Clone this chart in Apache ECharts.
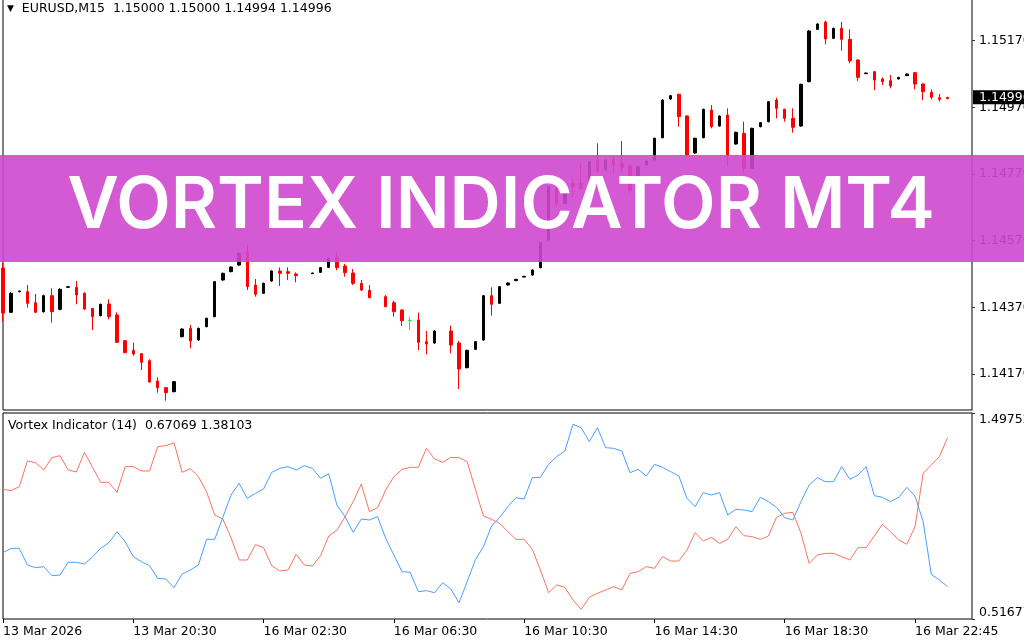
<!DOCTYPE html>
<html><head><meta charset="utf-8">
<script src="https://cdn.jsdelivr.net/npm/echarts@6/dist/echarts.min.js"></script>
<style>html,body{margin:0;padding:0;background:#fff}#c{width:1024px;height:640px}</style>
</head><body><div id="c"></div>
<script>
const symbol = 'EURUSD', timeframe = 'M15', vortexPeriod = 14;
const bannerText = 'VORTEX INDICATOR MT4';
const slotCount = 120;
const opens = [1.14488,1.14355,1.14417,1.14417,1.14384,1.14357,1.14405,1.14364,1.14430,1.14430,
1.14412,1.14367,1.14345,1.14380,1.14347,1.14270,1.14241,1.14231,1.14210,1.14149,
1.14129,1.14117,1.14282,1.14307,1.14272,1.14312,1.14342,1.14452,1.14477,1.14497,
1.14536,1.14437,1.14412,1.14449,1.14479,1.14477,1.14470,null,1.14471,1.14475,
1.14490,1.14520,1.14494,1.14473,1.14442,1.14421,null,1.14402,1.14384,1.14362,
1.14330,1.14332,1.14267,1.14263,null,1.14299,1.14263,1.14189,1.14244,1.14272,
1.14405,1.14382,1.14437,1.14450,1.14461,1.14467,1.14489,1.14572,1.14727,1.14682,
1.14742,1.14742,1.14732,1.14812,1.14782,1.14814,1.14802,1.14794,1.14752,1.14797,
1.14812,1.14879,1.14995,1.15009,1.14944,1.14833,1.14879,1.14962,1.14914,1.14947,
1.14860,1.14892,1.14787,1.14912,1.14927,1.14992,1.14964,1.14937,1.14914,1.15047,
1.15204,1.15226,1.15177,1.15207,1.15174,1.15112,1.15071,1.15077,1.15055,1.15050,
1.15055,1.15065,1.15074,1.15040,1.15015,1.14999,1.15000];
const highs = [1.14503,1.14416,1.14420,1.14437,1.14410,1.14408,1.14427,1.14427,1.14433,1.14449,
1.14415,1.14368,1.14381,1.14394,1.14355,1.14272,1.14264,1.14233,1.14214,1.14160,
1.14131,1.14149,1.14307,1.14317,1.14309,1.14339,1.14449,1.14474,1.14493,1.14535,
1.14557,1.14455,1.14444,1.14481,1.14490,1.14490,1.14475,null,1.14474,1.14491,
1.14519,1.14536,1.14500,1.14485,1.14452,1.14437,null,1.14407,1.14390,1.14364,
1.14342,1.14354,1.14299,1.14301,null,1.14315,1.14269,1.14243,1.14269,1.14407,
1.14430,1.14434,1.14445,1.14455,1.14464,1.14484,1.14566,1.14734,1.14764,1.14719,
1.14757,1.14802,1.14809,1.14862,1.14814,1.14824,1.14869,1.14796,1.14794,1.14811,
1.14879,1.14994,1.15007,1.15011,1.14946,1.14879,1.14966,1.14977,1.14946,1.14967,
1.14897,1.14927,1.14909,1.14926,1.14989,1.14999,1.14966,1.14967,1.15041,1.15201,
1.15222,1.15230,1.15209,1.15226,1.15204,1.15114,1.15074,1.15079,1.15060,1.15067,
1.15061,1.15071,1.15076,1.15042,1.15024,1.15010,1.15000];
const lows = [1.14327,1.14353,1.14415,1.14369,1.14354,1.14354,1.14324,1.14361,1.14429,1.14379,
1.14362,1.14302,1.14343,1.14334,1.14263,1.14232,1.14225,1.14182,1.14144,1.14114,
1.14090,1.14115,1.14280,1.14247,1.14270,1.14310,1.14340,1.14450,1.14475,1.14495,
1.14422,1.14402,1.14410,1.14447,1.14434,1.14452,1.14445,null,1.14470,1.14473,
1.14488,1.14481,1.14462,1.14437,1.14419,1.14397,null,1.14370,1.14342,1.14314,
1.14302,1.14242,1.14229,1.14261,null,1.14232,1.14125,1.14187,1.14242,1.14270,
1.14345,1.14380,1.14436,1.14449,1.14460,1.14465,1.14487,1.14570,1.14672,1.14680,
1.14702,1.14722,1.14730,1.14773,1.14780,1.14770,1.14777,1.14712,1.14750,1.14795,
1.14810,1.14877,1.14993,1.14912,1.14818,1.14831,1.14877,1.14907,1.14912,1.14792,
1.14858,1.14772,1.14785,1.14910,1.14925,1.14937,1.14927,1.14894,1.14912,1.15045,
1.15202,1.15159,1.15175,1.15140,1.15102,1.15049,1.15070,1.15022,1.15037,1.15027,
1.15054,1.15064,1.15024,1.14992,1.14994,1.14987,1.14994];
const closes = [1.14353,1.14412,1.14419,1.14382,1.14355,1.14405,1.14357,1.14424,1.14432,1.14407,
1.14365,1.14342,1.14379,1.14342,1.14265,1.14234,1.14230,1.14205,1.14146,1.14129,
1.14114,1.14147,1.14305,1.14269,1.14307,1.14337,1.14447,1.14472,1.14491,1.14532,
1.14432,1.14409,1.14442,1.14479,1.14472,1.14472,1.14465,null,1.14473,1.14489,
1.14517,1.14489,1.14474,1.14442,1.14422,1.14399,null,1.14372,1.14357,1.14330,
1.14330,1.14265,1.14260,1.14299,null,1.14257,1.14185,1.14241,1.14267,1.14405,
1.14379,1.14432,1.14443,1.14454,1.14463,1.14482,1.14564,1.14732,1.14682,1.14717,
1.14732,1.14727,1.14807,1.14777,1.14812,1.14797,1.14790,1.14722,1.14792,1.14809,
1.14877,1.14992,1.15005,1.14942,1.14827,1.14877,1.14964,1.14912,1.14944,1.14824,
1.14895,1.14787,1.14907,1.14924,1.14987,1.14967,1.14937,1.14910,1.15039,1.15199,
1.15220,1.15175,1.15207,1.15174,1.15109,1.15060,1.15073,1.15052,1.15047,1.15034,
1.15060,1.15070,1.15040,1.15017,1.15000,1.14994,1.14996];
const vortexPlus = [0.8326,0.8532,0.8532,0.7739,0.7612,0.7659,0.7231,0.7262,0.7866,0.7866,
0.7786,0.8135,0.8532,0.8802,0.9326,0.8850,0.8135,0.7897,0.7707,0.7104,
0.7072,0.6660,0.7310,0.7501,0.7739,0.8961,0.8961,1.0008,1.1071,1.1627,
1.0913,1.1151,1.1357,1.2151,1.2341,1.2420,1.2262,1.2468,1.2341,1.1865,
1.2087,1.0595,1.0040,0.9294,0.9929,0.9881,1.0040,0.9008,0.8215,0.7421,
0.7390,0.6469,0.6517,0.6421,0.6898,0.6596,0.5945,0.6945,0.7977,0.8611,
0.9595,1.0008,1.0516,1.0944,1.0881,1.1897,1.1913,1.2531,1.2896,1.3166,
1.4436,1.4277,1.3611,1.4277,1.3325,1.3293,1.3166,1.2135,1.2293,1.1976,
1.2531,1.2388,1.2182,1.1976,1.0913,1.0516,1.1183,1.1071,1.1183,1.0119,
1.0389,1.0357,1.0278,1.0960,1.0754,1.0484,0.9992,0.9881,1.0754,1.1547,
1.1897,1.1706,1.1706,1.2420,1.1817,1.2024,1.2420,1.1040,1.0960,1.0754,
1.0960,1.1436,1.1024,0.9802,0.7294,0.7024,0.67069];
const vortexMinus = [1.1341,1.1278,1.1468,1.2690,1.2611,1.2262,1.2849,1.2944,1.2262,1.2166,
1.3103,1.2388,1.1674,1.1674,1.1198,1.2420,1.2420,1.2214,1.2214,1.3373,
1.3420,1.3563,1.2151,1.2325,1.1944,1.1230,1.0119,0.9929,0.9040,0.7977,
0.7977,0.8707,0.8564,0.7707,0.7453,0.7501,0.8246,0.7739,0.7691,0.8183,
0.9119,0.9389,1.0040,1.0754,1.1595,1.0278,1.0468,1.1309,1.1944,1.2293,
1.2388,1.2388,1.3293,1.2786,1.2627,1.2865,1.2849,1.2658,1.1357,1.0072,
0.9913,0.9722,0.9326,0.8961,0.8961,0.8485,0.7501,0.6421,0.6786,0.6675,
0.6072,0.5628,0.6199,0.6390,0.6548,0.6707,0.6548,0.7342,0.7421,0.7659,
0.7580,0.8135,0.7929,0.7929,0.8453,0.9278,0.8881,0.9056,0.8770,0.8961,
0.9564,0.9135,0.9088,0.8961,0.9119,1.0008,1.0199,1.0246,0.9246,0.7818,
0.8215,0.8294,0.8294,0.8135,0.7977,0.8564,0.8564,0.9119,0.9675,0.9326,
0.8929,0.8723,0.9564,1.2103,1.2500,1.2897,1.38103];
const xTickIndex = [0,16,32,48,64,80,96,112];
const xTickLabels = ['13 Mar 2026','13 Mar 20:30','16 Mar 02:30','16 Mar 06:30','16 Mar 10:30','16 Mar 14:30','16 Mar 18:30','16 Mar 22:45'];
const priceTicks = [1.1417,1.1437,1.1457,1.1477,1.1497,1.1517];
const priceMin = 1.14062, priceMax = 1.15295;
const vortexMin = 0.51677, vortexMax = 1.49752;

const FONT = 'DejaVu Sans';
const FS = 12.5;
const cats = Array.from({length: slotCount}, (_, i) => String(i));
const candleData = opens.map((o, i) => o == null ? ['-','-','-','-'] : [o, closes[i], lows[i], highs[i]]);
const last = opens.length - 1;
const headerText = '{t|▼}  ' + symbol + ',' + timeframe + '  ' +
  [opens[last], highs[last], lows[last], closes[last]].map(v => v.toFixed(5)).join(' ');
const vortexText = 'Vortex Indicator (' + vortexPeriod + ')  ' +
  vortexPlus[vortexPlus.length-1].toFixed(5) + ' ' + vortexMinus[vortexMinus.length-1].toFixed(5);
const isTick = (idx) => xTickIndex.indexOf(idx) >= 0;

const chart = echarts.init(document.getElementById('c'), null, {renderer: 'canvas'});
chart.setOption({
  animation: false,
  backgroundColor: '#ffffff',
  title: [
    {text: headerText, left: 7, top: 1, padding: 0,
     textStyle: {fontFamily: FONT, fontSize: FS, fontWeight: 'normal', color: '#000', lineHeight: 15,
       rich: {t: {fontSize: 9, color: '#000', fontFamily: FONT}}}},
    {text: vortexText, left: 8, top: 418, padding: 0,
     textStyle: {fontFamily: FONT, fontSize: FS, fontWeight: 'normal', color: '#000', lineHeight: 15}}
  ],
  grid: [
    {left: 3, right: 52, top: -1, height: 411, show: true, borderColor: '#000', borderWidth: 1,
     backgroundColor: 'transparent', outerBoundsMode: 'none', containLabel: false},
    {left: 3, right: 52, top: 413, height: 206, show: true, borderColor: '#000', borderWidth: 1,
     backgroundColor: 'transparent', outerBoundsMode: 'none', containLabel: false}
  ],
  xAxis: [
    {type: 'category', gridIndex: 0, data: cats, boundaryGap: false, show: false},
    {type: 'category', gridIndex: 1, data: cats, boundaryGap: false,
     axisLine: {show: false},
     axisTick: {show: true, interval: isTick, length: 4, lineStyle: {color: '#000'}},
     axisLabel: {interval: isTick, formatter: (v, idx) => xTickLabels[xTickIndex.indexOf(idx)] || '',
       align: 'left', margin: 6, fontFamily: FONT, fontSize: FS, color: '#000'},
     splitLine: {show: false}}
  ],
  yAxis: [
    {type: 'value', gridIndex: 0, position: 'right', min: priceMin, max: priceMax, z: 3,
     splitLine: {show: false},
     axisLine: {show: true, lineStyle: {color: '#808080'}},
     axisTick: {show: true, customValues: priceTicks, length: 3, lineStyle: {color: '#333'}},
     axisLabel: {customValues: priceTicks, formatter: v => v.toFixed(5), margin: 7,
       fontFamily: FONT, fontSize: FS, color: '#000'}},
    {type: 'value', gridIndex: 1, position: 'right', min: vortexMin, max: vortexMax, z: 3,
     splitLine: {show: false},
     axisLine: {show: true, lineStyle: {color: '#808080'}},
     axisTick: {show: true, customValues: [vortexMin, vortexMax], length: 3, lineStyle: {color: '#333'}},
     axisLabel: {customValues: [vortexMin, vortexMax], formatter: v => v.toFixed(5), margin: 7,
       verticalAlignMinLabel: 'bottom', verticalAlignMaxLabel: 'top',
       fontFamily: FONT, fontSize: FS, color: '#000'}}
  ],
  series: [
    {type: 'candlestick', xAxisIndex: 0, yAxisIndex: 0, data: candleData, barWidth: 3,
     itemStyle: {color: '#000000', color0: '#ff0000', borderColor: '#000000', borderColor0: '#ff0000',
       borderColorDoji: '#00ff00', borderWidth: 1},
     markLine: {silent: true, symbol: ['none', 'none'], animation: false,
       lineStyle: {color: 'rgba(0,0,0,0)', width: 1},
       label: {show: true, position: 'end', distance: 1, formatter: closes[last].toFixed(5),
         backgroundColor: '#000', color: '#fff', padding: [1, 8, 0, 6],
         fontFamily: FONT, fontSize: FS},
       data: [{yAxis: closes[last]}]}},
    {type: 'line', name: 'VI-', xAxisIndex: 1, yAxisIndex: 1, data: vortexMinus, showSymbol: false,
     lineStyle: {width: 1, color: '#f87461'}, itemStyle: {color: '#f87461'}},
    {type: 'line', name: 'VI+', xAxisIndex: 1, yAxisIndex: 1, data: vortexPlus, showSymbol: false,
     lineStyle: {width: 1, color: '#4a9eff'}, itemStyle: {color: '#4a9eff'}}
  ],
  graphic: [
    {type: 'rect', left: 0, top: 155, z: 100, silent: true,
     shape: {width: 1024, height: 107}, style: {fill: 'rgba(207,72,207,0.9)'}},
    {type: 'text', x: 501, y: 207, z: 101, silent: true,
     style: {text: bannerText, fill: '#ffffff', font: '600 71px Inter', textAlign: 'center', textVerticalAlign: 'middle'}}
  ]
});
</script>
</body></html>
